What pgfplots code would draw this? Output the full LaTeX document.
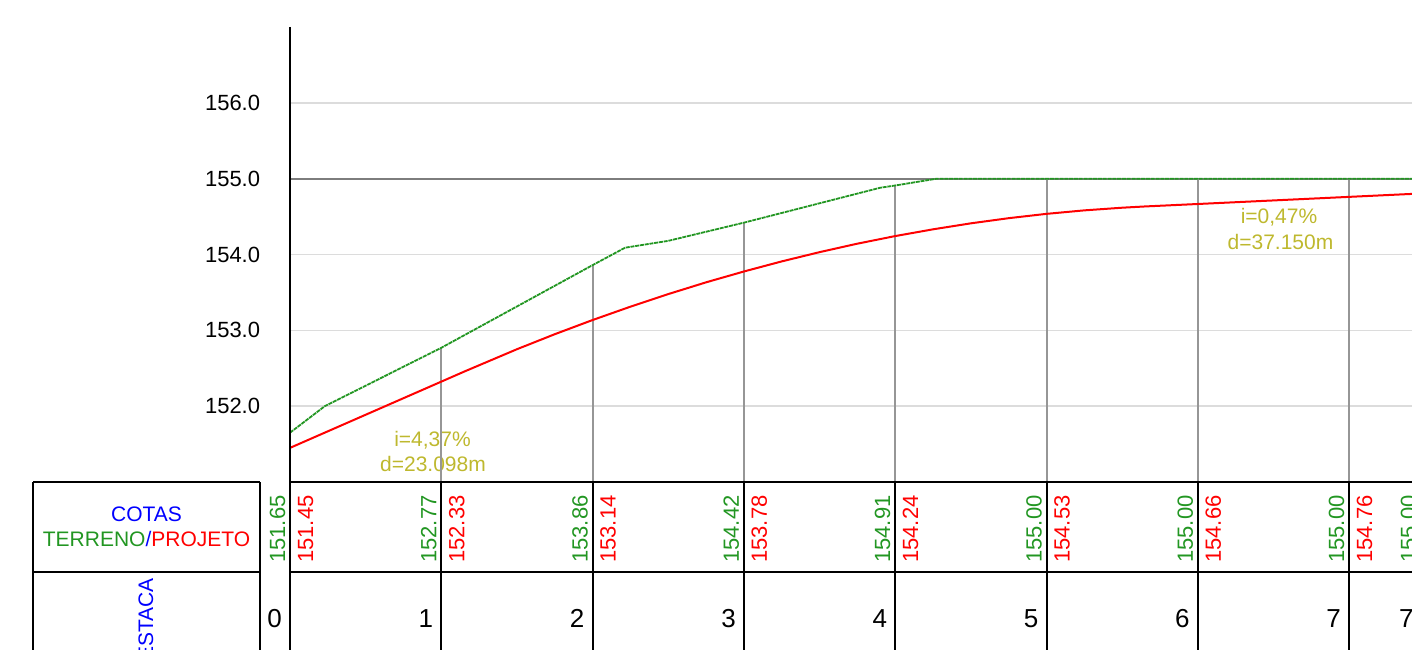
\documentclass[border=0pt]{standalone}
\usepackage{fontspec}
\setmainfont{Liberation Sans}
\usepackage{pgfplots}
\pgfplotsset{compat=1.18}
\definecolor{terreno}{RGB}{34,150,34}
\definecolor{projeto}{RGB}{255,0,0}
\definecolor{anot}{RGB}{190,184,46}
\definecolor{gridc}{RGB}{220,220,220}
\definecolor{estc}{RGB}{150,150,150}
\definecolor{refl}{RGB}{125,125,125}
\definecolor{azul}{RGB}{0,0,255}
\newcommand\fa{\fontsize{21}{25}\selectfont}
\newcommand\fb{\fontsize{22}{26}\selectfont}
\newcommand\fc{\fontsize{26}{30}\selectfont}
\begin{document}
\begin{tikzpicture}[x=1pt,y=1pt]
\useasboundingbox (0,0) rectangle (1412,649);
\clip (0,0) rectangle (1412,649);
% slope annotations (drawn first, station lines go over them)
\begin{scope}[every node/.style={inner sep=0pt, text=anot, font=\fa, anchor=base}]
\node at (432.5,202.5) {i=4,37\%};
\node at (433,178) {d=23.098m};
\node at (1279,425.7) {i=0,47\%};
\node at (1280.5,400) {d=37.150m};
\end{scope}
\begin{axis}[
  at={(290pt,167pt)}, anchor=south west, scale only axis,
  width=1134.75pt, height=455pt,
  xmin=0, xmax=150, ymin=151, ymax=157,
  axis line style={draw=none},
  xtick=\empty,
  ytick={152,153,154,155,156},
  major tick length=0pt,
  ymajorgrids,
  grid style={gridc, line width=1.5pt},
  scaled y ticks=false,
  yticklabel style={anchor=east, inner sep=0pt, xshift=-29.7pt, font=\fb},
  /pgf/number format/.cd, fixed, fixed zerofill, precision=1, assume math mode=true,
]
\addplot[refl, line width=2pt] coordinates {(0,155) (150,155)};
\addplot[ycomb, estc, line width=2pt] coordinates {
 (20,152.77) (40,153.86) (60,154.42) (80,154.91) (100,155.00) (120,155.00) (140,155.00)};
\addplot[projeto, line width=2pt] coordinates {
 (0,151.45) (23.1,152.459) (30,152.751) (35,152.949) (40,153.136) (45,153.312)
 (50,153.478) (55,153.633) (60,153.776) (65,153.909) (70,154.031) (75,154.143)
 (80,154.243) (85,154.332) (90,154.411) (95,154.479) (100,154.536) (105,154.582)
 (110,154.617) (112.9,154.633) (120,154.666) (140,154.760) (150,154.807)};
\addplot[terreno, line width=1.8pt, dash pattern=on 4pt off 0.8pt] coordinates {
 (0,151.65) (4.6,152.00) (20,152.77) (40,153.86) (44.3,154.09) (50,154.18)
 (60,154.42) (78,154.88) (80,154.91) (85.5,155.00) (150,155.00)};
\end{axis}
% table frame
\begin{scope}[line width=2pt, black]
\draw (290,622) -- (290,-5);
\draw (33,167) -- (260,167);
\draw (33,77) -- (260,77);
\draw (290,167) -- (1420,167);
\draw (290,77) -- (1420,77);
\draw (33,167) -- (33,-5);
\draw (260,167) -- (260,-5);
\foreach \xs in {441.3,592.6,743.9,895.2,1046.5,1197.8,1349.1}
  \draw (\xs,167) -- (\xs,-5);
\end{scope}
% header texts
\node[inner sep=0pt, anchor=base, font=\fa, text=azul] at (146.5,127.3) {COTAS};
\node[inner sep=0pt, anchor=base, font=\fa] at (146.5,102.3) {\textcolor{terreno}{TERRENO}\textcolor{azul}{/}\textcolor{projeto}{PROJETO}};
\node[inner sep=0pt, anchor=base east, rotate=90, font=\fa, text=azul] at (153,71) {ESTACA};
% elevations
\begin{scope}[every node/.style={inner sep=0pt, rotate=90, anchor=base west, font=\fb}]
\node[text=terreno] at (285,86) {151.65};
\node[text=projeto] at (313,86) {151.45};
\node[text=terreno] at (436.3,86) {152.77};
\node[text=projeto] at (464.3,86) {152.33};
\node[text=terreno] at (587.6,86) {153.86};
\node[text=projeto] at (615.6,86) {153.14};
\node[text=terreno] at (738.9,86) {154.42};
\node[text=projeto] at (766.9,86) {153.78};
\node[text=terreno] at (890.2,86) {154.91};
\node[text=projeto] at (918.2,86) {154.24};
\node[text=terreno] at (1041.5,86) {155.00};
\node[text=projeto] at (1069.5,86) {154.53};
\node[text=terreno] at (1192.8,86) {155.00};
\node[text=projeto] at (1220.8,86) {154.66};
\node[text=terreno] at (1344.1,86) {155.00};
\node[text=projeto] at (1372.1,86) {154.76};
\node[text=terreno] at (1416,86) {155.00};
\end{scope}
% stations
\begin{scope}[every node/.style={inner sep=0pt, anchor=base east, font=\fc}]
\node at (282,22) {0};
\node at (433.3,22) {1};
\node at (584.6,22) {2};
\node at (735.9,22) {3};
\node at (887.2,22) {4};
\node at (1038.5,22) {5};
\node at (1189.8,22) {6};
\node at (1341.1,22) {7};
\node[anchor=base west] at (1399,22) {7};
\end{scope}
\end{tikzpicture}
\end{document}
